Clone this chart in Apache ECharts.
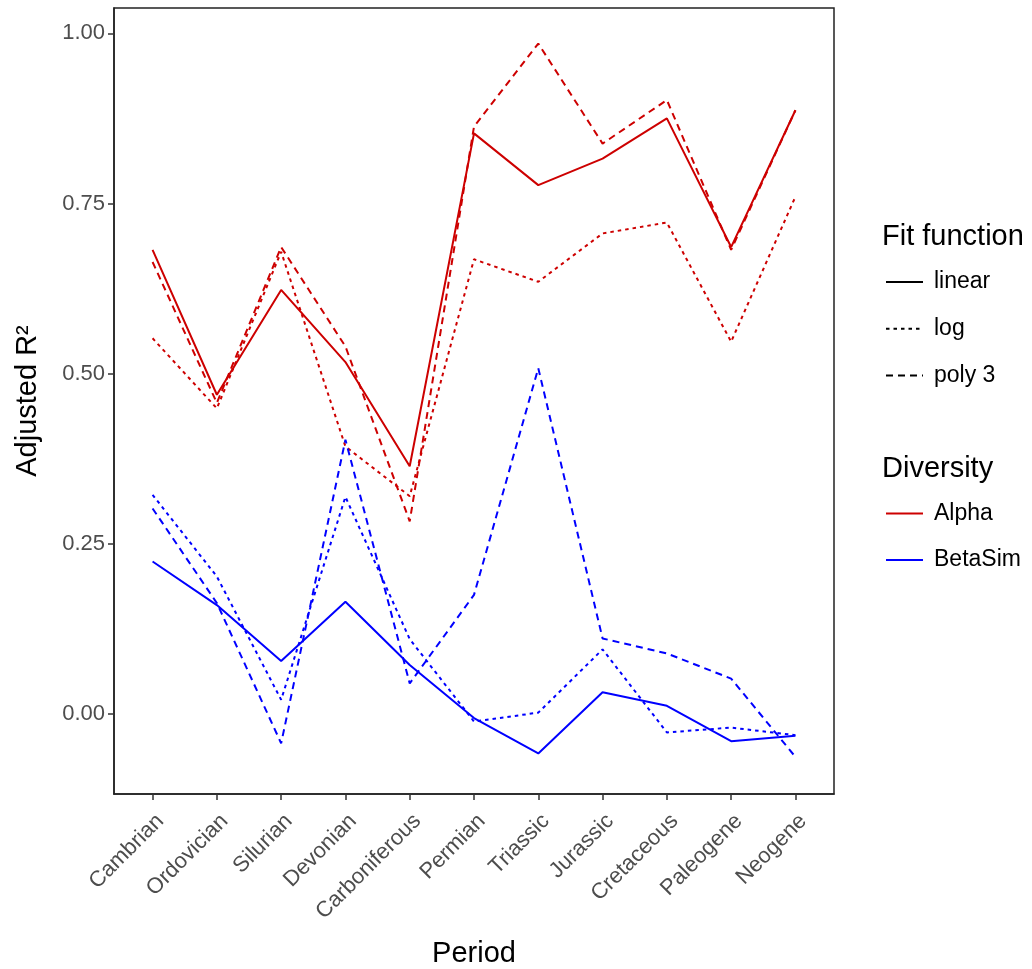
<!DOCTYPE html>
<html>
<head>
<meta charset="utf-8">
<script src="https://cdn.jsdelivr.net/npm/echarts@6/dist/echarts.min.js"></script>
<style>
html,body{margin:0;padding:0;background:#fff;}
#chart{width:1032px;height:969px;}
</style>
</head>
<body>
<div id="chart"></div>
<script>
var periods = ['Cambrian','Ordovician','Silurian','Devonian','Carboniferous','Permian','Triassic','Jurassic','Cretaceous','Paleogene','Neogene'];
var yTicks = [0, 0.25, 0.5, 0.75, 1.0];

var alphaLinear = [0.682, 0.469, 0.623, 0.517, 0.364, 0.853, 0.777, 0.816, 0.875, 0.686, 0.887];
var alphaLog    = [0.552, 0.449, 0.679, 0.393, 0.320, 0.668, 0.635, 0.706, 0.722, 0.547, 0.760];
var alphaPoly3  = [0.664, 0.457, 0.686, 0.540, 0.283, 0.863, 0.985, 0.838, 0.902, 0.682, 0.887];

var betaLinear  = [0.224, 0.160, 0.078, 0.165, 0.072, -0.006, -0.058, 0.032, 0.012, -0.040, -0.032];
var betaLog     = [0.322, 0.202, 0.021, 0.319, 0.110, -0.011, 0.002, 0.095, -0.027, -0.020, -0.031];
var betaPoly3   = [0.302, 0.163, -0.043, 0.403, 0.045, 0.175, 0.508, 0.111, 0.089, 0.052, -0.063];

var RED = '#CD0000', BLUE = '#0000FF';
var DOT = [3.5, 4], DASH = [7, 5];
var FONT = '"Liberation Sans", Arial, sans-serif';

function pairs(arr){ return arr.map(function(v,i){ return [i, v]; }); }
function mk(name, arr, color, type){
  return {
    name: name, type: 'line', data: pairs(arr), symbol: 'none', silent: true,
    lineStyle: {color: color, width: 2, type: type}, itemStyle: {color: color},
    animation: false, z: 3
  };
}
function dummy(name, color, type){
  return {
    name: name, type: 'line', data: [], symbol: 'none',
    lineStyle: {color: color, width: 2, type: type}, itemStyle: {color: color},
    animation: false
  };
}
var catIdx = periods.map(function(p,i){ return i; });

var chart = echarts.init(document.getElementById('chart'), null, {renderer: 'canvas'});
chart.setOption({
  backgroundColor: '#fff',
  animation: false,
  textStyle: {fontFamily: FONT},
  grid: {left: 114, right: 198, top: 8, bottom: 175, containLabel: false, outerBoundsMode: 'none',
         show: true, borderColor: '#222', borderWidth: 1.5, backgroundColor: 'transparent'},
  title: [
    {text: 'Fit function', left: 877, top: 217.5, textStyle: {fontFamily: FONT, fontSize: 29, fontWeight: 'normal', color: '#000'}},
    {text: 'Diversity', left: 877, top: 449, textStyle: {fontFamily: FONT, fontSize: 29, fontWeight: 'normal', color: '#000'}}
  ],
  legend: [
    {
      data: ['linear', 'log', 'poly 3'], orient: 'vertical', left: 880, top: 265,
      itemWidth: 37, itemHeight: 24, itemGap: 22.7, selectedMode: false,
      itemStyle: {opacity: 0}, lineStyle: {width: 2},
      textStyle: {fontFamily: FONT, fontSize: 23, color: '#000', lineHeight: 24, padding: [0, 0, 0, 6]}
    },
    {
      data: ['Alpha', 'BetaSim'], orient: 'vertical', left: 880, top: 496.5,
      itemWidth: 37, itemHeight: 24, itemGap: 22.6, selectedMode: false,
      itemStyle: {opacity: 0}, lineStyle: {width: 2},
      textStyle: {fontFamily: FONT, fontSize: 23, color: '#000', lineHeight: 24, padding: [0, 0, 0, 6]}
    }
  ],
  xAxis: {
    type: 'value', min: -0.6, max: 10.6,
    name: 'Period', nameLocation: 'middle', nameGap: 145,
    nameTextStyle: {fontFamily: FONT, fontSize: 29, color: '#000'},
    axisLine: {show: true, onZero: false, lineStyle: {color: '#222', width: 1.5}},
    axisTick: {show: true, length: 6, lineStyle: {color: '#333', width: 1.5}, customValues: catIdx},
    axisLabel: {
      customValues: catIdx,
      formatter: function(v){ return periods[Math.round(v)] || ''; },
      rotate: 45, margin: 16, verticalAlign: 'top', fontFamily: FONT, fontSize: 22, color: '#4D4D4D'
    },
    splitLine: {show: false}
  },
  yAxis: {
    type: 'value', min: -0.1175, max: 1.0372,
    name: 'Adjusted R²', nameLocation: 'middle', nameGap: 72,
    nameTextStyle: {fontFamily: FONT, fontSize: 29, color: '#000'},
    axisLine: {show: true, onZero: false, lineStyle: {color: '#222', width: 1.5}},
    axisTick: {show: true, length: 6, lineStyle: {color: '#333', width: 1.5}, customValues: yTicks},
    axisLabel: {
      customValues: yTicks,
      formatter: function(v){ return v.toFixed(2); },
      margin: 9, fontFamily: FONT, fontSize: 22, color: '#4D4D4D'
    },
    splitLine: {show: false}
  },
  series: [
    mk('Alpha linear', alphaLinear, RED, 'solid'),
    mk('Alpha log', alphaLog, RED, DOT),
    mk('Alpha poly 3', alphaPoly3, RED, DASH),
    mk('BetaSim linear', betaLinear, BLUE, 'solid'),
    mk('BetaSim log', betaLog, BLUE, DOT),
    mk('BetaSim poly 3', betaPoly3, BLUE, DASH),
    dummy('linear', '#000', 'solid'),
    dummy('log', '#000', DOT),
    dummy('poly 3', '#000', DASH),
    dummy('Alpha', RED, 'solid'),
    dummy('BetaSim', BLUE, 'solid')
  ]
});
</script>
</body>
</html>
